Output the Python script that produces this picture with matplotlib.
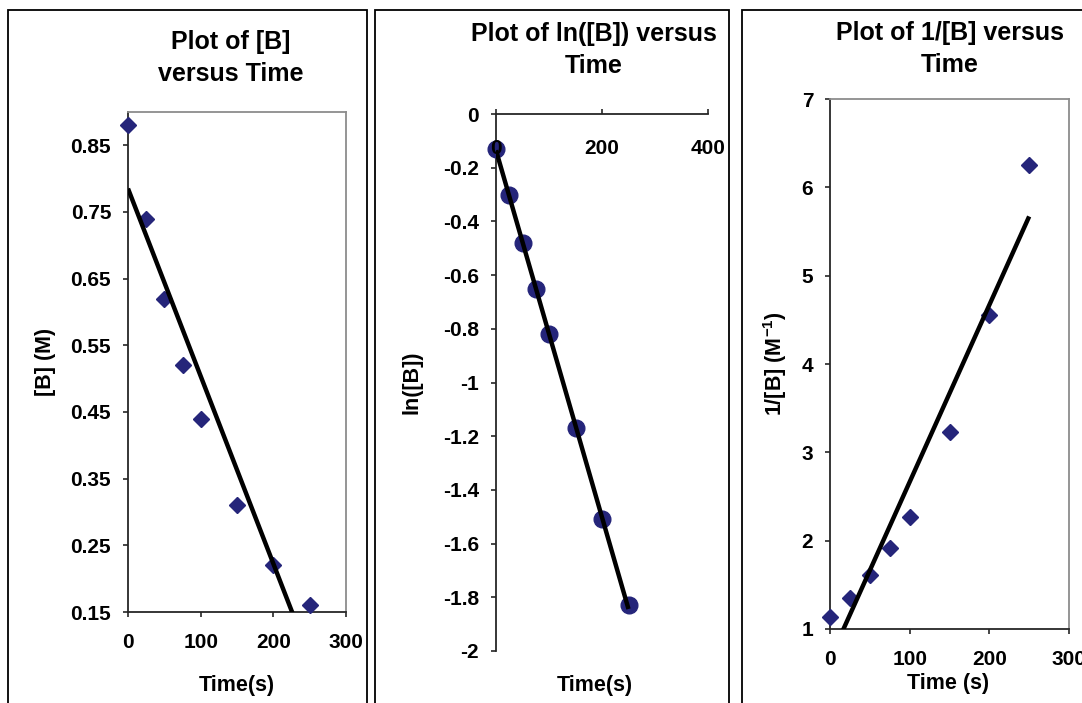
import matplotlib
matplotlib.use('Agg')
import matplotlib.pyplot as plt
from matplotlib.patches import Rectangle
from matplotlib.ticker import FuncFormatter
import numpy as np

plt.rcParams['font.family'] = ['Liberation Sans', 'DejaVu Sans']
plt.rcParams['font.weight'] = 'bold'
plt.rcParams['axes.unicode_minus'] = False
plt.rcParams['mathtext.fontset'] = 'custom'
plt.rcParams['mathtext.rm'] = 'Liberation Sans:bold'
plt.rcParams['mathtext.it'] = 'Liberation Sans:bold'
plt.rcParams['mathtext.bf'] = 'Liberation Sans:bold'

# data
time_s = [0, 25, 50, 75, 100, 150, 200, 250]
conc_b = [0.88, 0.74, 0.62, 0.52, 0.44, 0.31, 0.22, 0.16]
ln_b = [-0.13, -0.30, -0.48, -0.65, -0.82, -1.17, -1.51, -1.83]
inv_b = [1.14, 1.35, 1.61, 1.92, 2.27, 3.23, 4.55, 6.25]

conc_ticks = [0.15, 0.25, 0.35, 0.45, 0.55, 0.65, 0.75, 0.85]
ln_ticks = [0, -0.2, -0.4, -0.6, -0.8, -1, -1.2, -1.4, -1.6, -1.8, -2]
inv_ticks = [1, 2, 3, 4, 5, 6, 7]
time_ticks = [0, 100, 200, 300]
time_ticks_ln = [0, 200, 400]

titles = ['Plot of [B]\nversus Time', 'Plot of ln([B]) versus\nTime', 'Plot of 1/[B] versus\nTime']
ylabels = ['[B] (M)', 'ln([B])', '1/[B] (M$^{-1}$)']
xlabels = ['Time(s)', 'Time(s)', 'Time (s)']

W, H = 1082, 703
NAVY = '#25257a'
DARK = '#262626'
GREY = '#8c8c8c'
TICK_LEN = 3.6


def px_axes(left, top, right, bottom):
    return [left / W, 1 - bottom / H, (right - left) / W, (bottom - top) / H]


def trend(ax, x, y):
    fit = np.polyfit(x, y, 1)
    xs = np.array([x[0], x[-1]])
    ax.plot(xs, np.polyval(fit, xs), '-', color='black', lw=3.2, zorder=4,
            solid_capstyle='butt')


def framed(ax):
    ax.spines['left'].set_color(DARK)
    ax.spines['bottom'].set_color(DARK)
    ax.spines['top'].set_color(GREY)
    ax.spines['right'].set_color(GREY)
    for s in ax.spines.values():
        s.set_linewidth(1.3)
    ax.tick_params(axis='both', direction='out', length=TICK_LEN, width=1.2,
                   color=DARK, labelsize=15)
    ax.tick_params(axis='y', pad=8.5)
    ax.tick_params(axis='x', pad=11.5)


fig = plt.figure(figsize=(W / 100, H / 100), dpi=100)
fig.patch.set_facecolor('white')

# chart-area borders
for x0, x1 in [(8, 367), (375, 729), (742, 1200)]:
    fig.add_artist(Rectangle((x0 / W, -0.1), (x1 - x0) / W, 1.1 - 10 / H,
                             transform=fig.transFigure, fill=False,
                             ec='black', lw=1.3))

# panel 1: [B] vs time
ax1 = fig.add_axes(px_axes(128, 112, 346, 612))
ax1.plot(time_s, conc_b, 'D', color=NAVY, ms=7.8, zorder=3, clip_on=False)
trend(ax1, time_s, conc_b)
ax1.set_xlim(0, 300)
ax1.set_ylim(0.15, 0.9)
ax1.set_xticks(time_ticks)
ax1.set_yticks(conc_ticks)
ax1.yaxis.set_major_formatter(FuncFormatter(lambda v, p: '%.2f' % v))
framed(ax1)
ax1.set_ylabel(ylabels[0], fontsize=15.5, fontweight='bold', va='center')
ax1.yaxis.set_label_coords((46 - 128) / 218, 0.5)
ax1.set_xlabel(xlabels[0], fontsize=15.5, fontweight='bold', va='center')
ax1.xaxis.set_label_coords(0.5, -(686 - 612) / 500)

# panel 2: ln[B] vs time
ax2 = fig.add_axes(px_axes(496, 114, 708, 651))
ax2.plot(time_s, ln_b, 'o', color=NAVY, ms=12, zorder=3, clip_on=False)
trend(ax2, time_s, ln_b)
ax2.set_xlim(0, 400)
ax2.set_ylim(-2, 0)
ax2.set_xticks(time_ticks_ln)
ax2.set_yticks(ln_ticks)
ax2.yaxis.set_major_formatter(FuncFormatter(lambda v, p: '%g' % v))
ax2.spines['top'].set_visible(False)
ax2.spines['right'].set_visible(False)
ax2.spines['bottom'].set_position(('data', 0))
for s in ['left', 'bottom']:
    ax2.spines[s].set_color(DARK)
    ax2.spines[s].set_linewidth(1.3)
ax2.tick_params(axis='y', direction='out', length=TICK_LEN, width=1.2,
                color=DARK, labelsize=15, pad=8.5)
ax2.tick_params(axis='x', direction='in', length=TICK_LEN, width=1.2,
                color=DARK, labelsize=15, pad=18)
ax2.xaxis.set_zorder(3.5)
ax2.set_ylabel(ylabels[1], fontsize=15.5, fontweight='bold', va='center')
ax2.yaxis.set_label_coords((412 - 496) / 212, 0.5)
ax2.set_xlabel(xlabels[1], fontsize=15.5, fontweight='bold', va='center')
ax2.xaxis.set_label_coords((595 - 496) / 212, -(686 - 651) / 537)

# panel 3: 1/[B] vs time
ax3 = fig.add_axes(px_axes(830, 99, 1069, 629))
ax3.plot(time_s, inv_b, 'D', color=NAVY, ms=7.8, zorder=3, clip_on=False)
trend(ax3, time_s, inv_b)
ax3.set_xlim(0, 300)
ax3.set_ylim(1, 7)
ax3.set_xticks(time_ticks)
ax3.set_yticks(inv_ticks)
framed(ax3)
ax3.set_ylabel(ylabels[2], fontsize=15.5, fontweight='bold', va='center')
ax3.yaxis.set_label_coords((775 - 830) / 239, 0.5)
ax3.set_xlabel(xlabels[2], fontsize=15.5, fontweight='bold', va='center')
ax3.xaxis.set_label_coords((948 - 830) / 239, -(683 - 629) / 530)

# titles, centred over each plot area
for (cx, cy), t in zip([(231, 58), (594, 50), (950, 49)], titles):
    fig.text(cx / W, 1 - cy / H, t, ha='center', va='center', fontsize=18,
             fontweight='bold', linespacing=1.4)

fig.savefig('out.png', dpi=100, facecolor='white')
